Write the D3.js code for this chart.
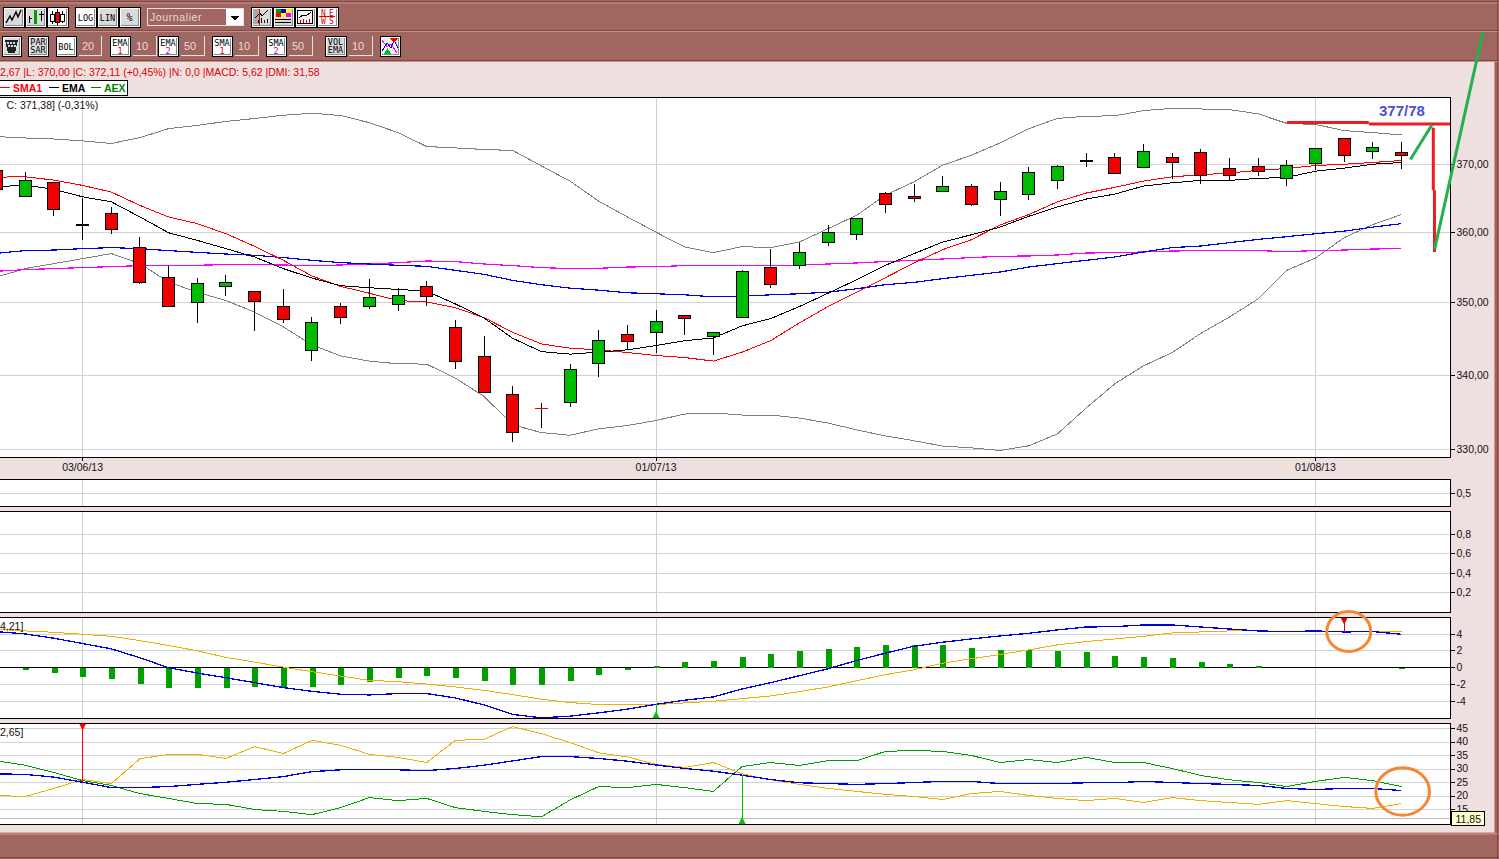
<!DOCTYPE html>
<html>
<head>
<meta charset="utf-8">
<script src="https://cdn.jsdelivr.net/npm/d3@7"></script>
<style>
  html, body { margin: 0; padding: 0; background: #a1665f; overflow: hidden; }
  svg { display: block; font-family: "Liberation Sans", Arial, sans-serif; }
</style>
</head>
<body>
<svg id="chart"></svg>
<script>
const dateTicks = [3, 23, 46];
const dateLabels = ["03/06/13", "01/07/13", "01/08/13"];

// daily candles
const opens = [369.16,365.23,367.35,361.07,362.79,357.86,353.57,350.09,352.37,351.57,349.45,343.37,349.45,349.53,349.81,352.29,346.58,342.6,337.3,335.54,336.3,341.59,345.62,345.84,348.22,345.29,347.89,355,355.28,358.66,359.71,365.73,365.29,366.03,366.76,364.85,365.59,367.65,370.54,371.04,369.56,371.04,371.79,369.41,369.71,367.94,370.15,373.87,371.94,371.79];
const highs = [369.16,368.82,367.35,365.09,363.67,359.33,355.23,353.47,353.9,351.57,351.9,347.99,350.04,353.33,352.04,353.04,347.58,345.38,338.55,336.26,341.55,346.2,346.89,348.95,348.22,345.89,354.71,357.61,358.47,361.07,362.06,365.88,367.1,368.28,367.06,367.35,369.56,369.9,371.64,371.64,373.13,371.64,372.24,371.04,371.04,370.6,372.38,374.02,373.43,373.43];
const lows = [366.37,365.23,362.44,358.94,359.76,352.66,349.53,347.16,351.04,346.11,347.16,342,347.03,349.08,348.81,349.53,340.9,337.65,331.03,332.88,335.62,339.68,343.6,343.01,345.56,342.78,347.89,352.08,354.8,358.09,358.94,362.88,364.5,366.03,363.91,362.44,364.79,366.41,369.65,368.68,369.56,367.88,367.15,367.65,368.32,366.85,369.16,370.39,370.79,369.35];
const closes = [366.37,367.65,363.38,361.07,360.44,352.94,349.53,352.71,352.86,350.23,347.62,347.26,347.89,350.71,351,350.94,341.86,337.65,332.25,335.54,340.82,344.79,344.6,347.4,347.81,345.89,354.43,352.57,357.14,360,362.06,364.12,364.94,366.76,364.12,366.03,368.82,369.71,370.54,368.68,371.94,370.3,368.38,368.38,368.97,369.85,372.38,371.34,372.53,371.34];
const redDoji = [19];

// overlays on the price pane
const sma1 = [368.13,368.18,367.69,366.91,365.93,363.97,362.29,361.32,359.86,358.04,356.04,353.8,352.33,351.37,350.33,350.14,349.32,347.95,345.89,344.29,343.7,343.47,343.1,342.69,342.41,341.92,343.15,344.74,347.21,349.49,351.51,353.57,355.66,357.57,359,361.12,362.64,364.5,365.78,366.62,367.54,368.18,368.47,368.76,369.12,369.41,369.85,370.04,370.3,370.6];
const ema1 = [366.7,366.96,366.32,365.23,364.5,362.29,360,358.9,357.71,356.51,354.85,353.51,352.43,352.14,351.9,351.66,349.86,347.89,345.07,343.23,342.88,343.15,343.47,344.06,344.74,345.11,346.79,347.81,349.49,351.37,353.28,355.33,357,358.66,359.71,360.82,362.39,363.76,364.9,365.63,366.81,367.29,367.65,367.65,367.94,368.09,369.01,369.46,370.04,370.3];
const ema2 = [357.04,357.43,357.51,357.71,357.86,357.71,357.43,357.18,356.94,356.76,356.43,356.04,355.71,355.51,355.33,355.18,354.61,354.04,353.18,352.57,352.08,351.8,351.43,351.29,351.14,350.86,350.94,351.14,351.29,351.51,352,352.57,352.9,353.43,353.9,354.37,355.08,355.57,356.04,356.51,357.23,357.86,358.09,358.57,359.04,359.43,359.86,360.23,360.82,361.32];
const sma2 = [354.47,354.71,354.86,355,355.14,355.28,355.28,355.33,355.43,355.43,355.37,355.28,355.37,355.51,355.71,355.94,355.86,355.51,355.28,355,354.86,354.9,355.08,355.14,355.28,355.28,355.28,355.28,355.37,355.51,355.66,355.86,356.04,356.23,356.43,356.61,356.66,356.8,357.08,357.14,357.23,357.37,357.43,357.43,357.43,357.28,357.43,357.51,357.66,357.71];
const bollUpper = [374.17,373.96,373.81,373.52,373.13,374.02,375.36,375.86,376.45,376.9,377.39,377.69,377.35,376.26,374.77,372.68,372.47,372.24,372.09,369.79,367.54,364.6,362.29,360.08,357.94,357.14,358,357.86,358.66,360.59,362.54,365.48,367.44,369.9,371.39,373.22,375.36,376.9,377.24,377.3,378.09,378.43,378.34,378.24,377.6,376.15,376,375.07,374.77,374.41];
const bollLower = [353.66,354.86,355.57,356.28,357,355.57,352.94,351.51,350.33,348.71,346.66,344.15,342.64,341.92,341.55,341.51,339.59,337.11,333.29,332.25,331.89,332.75,333.19,333.87,334.73,334.87,334.6,334.6,334.19,333.52,332.61,331.8,331.16,330.45,330.22,329.87,330.49,332.07,335.54,338.82,341.27,343.09,345.75,348.03,350.57,354.61,356.37,359.29,361.18,362.64];

// MACD pane
const macdHist = [-0.1,-0.32,-0.67,-1.15,-1.38,-1.98,-2.45,-2.45,-2.45,-2.33,-2.33,-2.33,-2.09,-1.74,-1.26,-1.03,-1.26,-1.62,-2.09,-2.09,-1.62,-0.91,-0.32,0.16,0.63,0.75,1.34,1.58,1.94,2.29,2.53,2.77,2.77,2.77,2.41,2.17,2.06,1.94,1.82,1.46,1.34,1.11,0.63,0.4,0.16,0,0,0,0,-0.2];
const macdLine = [4.31,4.03,3.52,2.89,2.25,1.19,0,-0.63,-1.19,-1.78,-2.37,-2.81,-3.16,-3.24,-3.08,-3.08,-3.6,-4.43,-5.57,-5.97,-5.77,-5.38,-4.94,-4.35,-3.87,-3.48,-2.53,-1.78,-0.95,-0.12,0.87,1.74,2.57,3.04,3.44,3.79,4.11,4.51,4.86,4.9,5.1,5.1,4.86,4.62,4.39,4.31,4.39,4.27,4.31,3.99];
const macdSignal = [4.58,4.39,4.23,3.99,3.75,3.24,2.65,2.02,1.23,0.67,0.08,-0.47,-0.99,-1.5,-1.66,-1.94,-2.29,-2.69,-3.2,-3.75,-4.15,-4.39,-4.39,-4.39,-4.19,-3.99,-3.68,-3.36,-2.85,-2.29,-1.54,-0.83,-0.24,0.55,1.07,1.58,2.13,2.73,3.12,3.44,3.75,4.15,4.27,4.39,4.39,4.35,4.35,4.35,4.35,4.35];

// DMI pane
const adx = [28.2,28,27,25.1,23.1,23.1,23.5,24.3,25.1,26.1,27.2,29,29.7,29.7,29.7,29.4,30.2,31.4,33,34.6,34.6,33.9,32.9,31.5,30.2,29.2,27.7,26.1,24.9,24.6,24.3,24.6,25,25.4,25.4,24.6,24.6,24.6,24.9,24.9,25.4,25,24.6,24.3,23.9,22.8,22.4,22.8,22.8,22];
const diMinus = [20.2,19.8,22.8,26.1,24.6,33.8,35.4,35.4,33.9,38.3,35.7,40.6,38.8,35.4,34.3,32.4,40.6,41,45.7,43.1,39.8,36,34.5,31.7,30.6,32.4,28.2,26,24.3,22.8,21.7,20.6,19.8,18.7,20.9,21.7,20.2,19.1,18.3,19.1,17.6,19.4,18.3,17.6,16.9,18.3,17.2,16.1,15.4,17.2];
const diPlus = [33,31.4,28.7,25.7,23.9,20.9,19.1,17.2,16.9,15,14.3,13.1,15.7,19.4,18.3,19.1,15.7,14.3,13.1,12.3,18.5,23.5,23.1,24.3,23.1,21.7,30.9,32.4,31.3,33.1,33.1,36.5,36.9,36.5,35,32.4,33.5,32.4,34.3,32.4,32.4,30.2,27.6,26,25,23.5,25.4,26.9,25.7,23.5];

// hand drawn marks, as [bar index, price]
const resistanceA = [[45, 376.3], [47.86, 376.3]];
const resistanceB = [[47.86, 376.08], [50.69, 376.08]];
const dropA = [[50.11, 375.51], [50.11, 366.22]];
const dropB = [[50.15, 366.22], [50.15, 357.23]];
const riseA = [[49.31, 370.75], [50.07, 376]];
const riseB = [[50.16, 357.71], [51.84, 390.2]];

const width = 1499, height = 859;
const marginLeft = -5, plotRight = 1450.5;
const fontSize = 10.5;
const comma = d3.formatLocale({ decimal: ",", thousands: ".", grouping: [3], currency: ["", ""], minus: "-" });

const svg = d3.select("#chart")
  .attr("width", width)
  .attr("height", height)
  .attr("viewBox", [0, 0, width, height]);

const x = d3.scaleLinear().domain([0, 49]).range([-3.4, 1401.5]);
const yPrice = d3.scaleLog().domain([330, 370]).range([449.5, 164.5]);
const yBlank1 = d3.scaleLinear().domain([0, 1]).range([507.5, 479.5]);
const yBlank2 = d3.scaleLinear().domain([0.2, 0.8]).range([592.5, 534.5]);
const yMacd = d3.scaleLinear().domain([-4, 4]).range([701.3, 634.2]);
const yDmi = d3.scaleLinear().domain([15, 45]).range([809.5, 728.5]);

// window frame
svg.append("rect").attr("width", width).attr("height", height).attr("fill", "#a1665f");
svg.append("rect").attr("x", -2).attr("y", 62).attr("width", 1496).attr("height", 771).attr("fill", "#efe0e0");
[[1.5, "#7d4a45"], [3, "#c98f87"], [30.5, "#7d4a45"], [31.5, "#c98f87"], [60.5, "#7d4a45"], [61.5, "#c98f87"], [833, "#b97a72"], [834, "#e28f85"], [857.5, "#7d4a45"]].forEach(([y, c]) => {
  svg.append("line").attr("x1", 0).attr("x2", width).attr("y1", y).attr("y2", y).attr("stroke", c);
});
svg.append("line").attr("x1", 1494.5).attr("x2", 1494.5).attr("y1", 62).attr("y2", 834).attr("stroke", "#e28f85");
svg.append("line").attr("x1", 1497.5).attr("x2", 1497.5).attr("y1", 0).attr("y2", height).attr("stroke", "#7d4a45");

// draws one pane: white box, grid lines, right axis and the date grid
function pane(id, top, bottom, y, ticks, fmt) {
  const g = svg.append("g");
  g.append("rect")
    .attr("x", marginLeft).attr("y", top + 0.5)
    .attr("width", plotRight - marginLeft).attr("height", bottom - top)
    .attr("fill", "#fff");
  svg.append("clipPath").attr("id", id).append("rect")
    .attr("x", marginLeft).attr("y", top + 0.5)
    .attr("width", plotRight - marginLeft).attr("height", bottom - top);

  const grid = g.append("g").attr("shape-rendering", "crispEdges");
  grid.selectAll("line")
    .data(dateTicks)
    .join("line")
    .attr("x1", d => x(d)).attr("x2", d => x(d))
    .attr("y1", top).attr("y2", bottom)
    .attr("stroke", "#cfcfcf");

  g.append("g")
    .attr("transform", `translate(${plotRight},0)`)
    .attr("shape-rendering", "crispEdges")
    .call(d3.axisRight(y).tickValues(ticks).tickFormat(fmt).tickSize(4).tickPadding(2).offset(0))
    .call(a => a.select(".domain").remove())
    .call(a => a.selectAll(".tick line").clone()
      .attr("x1", 0).attr("x2", marginLeft - plotRight)
      .attr("stroke", "#d2d2d2"))
    .call(a => a.selectAll("text")
      .attr("font-size", fontSize).attr("font-family", "Liberation Sans").attr("fill", "#111"));
  return g;
}

function frame(top, bottom) {
  svg.append("rect")
    .attr("x", marginLeft).attr("y", top + 0.5)
    .attr("width", plotRight - marginLeft).attr("height", bottom - top)
    .attr("fill", "none").attr("stroke", "#000").attr("shape-rendering", "crispEdges");
}

pane("clipPrice", 97, 457, yPrice, [330, 340, 350, 360, 370], comma.format(".2f"));
pane("clipBlank1", 479, 506, yBlank1, [0.5], comma.format(".1f"));
pane("clipBlank2", 511, 612, yBlank2, [0.2, 0.4, 0.6, 0.8], comma.format(".1f"));
pane("clipMacd", 617, 718, yMacd, [-4, -2, 0, 2, 4], comma.format("d"));
pane("clipDmi", 723, 824, yDmi, [15, 20, 25, 30, 35, 40, 45], comma.format("d"));

// price pane
const priceLayer = svg.append("g").attr("clip-path", "url(#clipPrice)");
const priceLine = d3.line().x((d, i) => x(i)).y(d => yPrice(d));
[[bollUpper, "#808080", 1], [bollLower, "#808080", 1], [sma2, "#ff00ff", 1.2], [ema2, "#0000e6", 1.2], [sma1, "#ff0000", 1], [ema1, "#000", 1]].forEach(([values, color, w]) => {
  priceLayer.append("path")
    .attr("d", priceLine(values))
    .attr("fill", "none")
    .attr("stroke", color)
    .attr("stroke-width", w)
    .attr("shape-rendering", "crispEdges");
});

const candles = priceLayer.append("g").attr("shape-rendering", "crispEdges");
candles.selectAll("line.wick")
  .data(opens)
  .join("line")
  .attr("class", "wick")
  .attr("x1", (d, i) => x(i)).attr("x2", (d, i) => x(i))
  .attr("y1", (d, i) => yPrice(highs[i]))
  .attr("y2", (d, i) => yPrice(lows[i]))
  .attr("stroke", "#000");
candles.selectAll("rect")
  .data(opens.map((d, i) => i).filter(i => opens[i] !== closes[i]))
  .join("rect")
  .attr("x", i => x(i) - 6)
  .attr("width", 12)
  .attr("y", i => yPrice(Math.max(opens[i], closes[i])))
  .attr("height", i => Math.abs(yPrice(opens[i]) - yPrice(closes[i])))
  .attr("fill", i => closes[i] > opens[i] ? "#00bb00" : "#f00000")
  .attr("stroke", "#000");
candles.selectAll("line.doji")
  .data(opens.map((d, i) => i).filter(i => opens[i] === closes[i]))
  .join("line")
  .attr("class", "doji")
  .attr("x1", i => x(i) - 6.5).attr("x2", i => x(i) + 6.5)
  .attr("y1", i => yPrice(opens[i])).attr("y2", i => yPrice(opens[i]))
  .attr("stroke", i => redDoji.includes(i) ? "#f00000" : "#000")
  .attr("stroke-width", i => redDoji.includes(i) ? 1 : 2);

// date axis under the price pane
svg.append("g")
  .attr("transform", "translate(0,457.5)")
  .attr("shape-rendering", "crispEdges")
  .call(d3.axisBottom(x).tickValues(dateTicks).tickFormat((d, i) => dateLabels[i]).tickSize(3).tickPadding(3).offset(0))
  .call(a => a.select(".domain").remove())
  .call(a => a.selectAll("text").attr("font-size", fontSize).attr("font-family", "Liberation Sans").attr("fill", "#111"));

// MACD pane
const macdLayer = svg.append("g").attr("clip-path", "url(#clipMacd)");
macdLayer.append("line")
  .attr("x1", marginLeft).attr("x2", plotRight)
  .attr("y1", yMacd(0)).attr("y2", yMacd(0))
  .attr("stroke", "#000").attr("shape-rendering", "crispEdges");
macdLayer.append("g").attr("shape-rendering", "crispEdges")
  .selectAll("rect")
  .data(macdHist)
  .join("rect")
  .attr("x", (d, i) => x(i) - 2.3)
  .attr("width", 6)
  .attr("y", d => yMacd(Math.max(d, 0)))
  .attr("height", d => Math.abs(yMacd(d) - yMacd(0)))
  .attr("fill", "#00a000");
const macdPath = d3.line().x((d, i) => x(i)).y(d => yMacd(d));
[[macdSignal, "#f0b000", 1], [macdLine, "#0000e0", 1.3]].forEach(([values, color, w]) => {
  macdLayer.append("path")
    .attr("d", macdPath(values))
    .attr("fill", "none").attr("stroke", color).attr("stroke-width", w).attr("shape-rendering", "crispEdges");
});

// DMI pane
const dmiLayer = svg.append("g").attr("clip-path", "url(#clipDmi)");
dmiLayer.append("line")
  .attr("x1", marginLeft).attr("x2", plotRight)
  .attr("y1", yDmi(11.85)).attr("y2", yDmi(11.85))
  .attr("stroke", "#bdbdbd").attr("shape-rendering", "crispEdges");
const dmiPath = d3.line().x((d, i) => x(i)).y(d => yDmi(d));
[[diMinus, "#f0b000", 1], [diPlus, "#009f00", 1], [adx, "#0000e0", 1.3]].forEach(([values, color, w]) => {
  dmiLayer.append("path")
    .attr("d", dmiPath(values))
    .attr("fill", "none").attr("stroke", color).attr("stroke-width", w).attr("shape-rendering", "crispEdges");
});

// buy and sell arrows, a stem from the value to the pane edge
function signal(layer, i, yValue, edge, color) {
  const dir = edge > yValue ? -1 : 1;
  const px = x(i);
  layer.append("line")
    .attr("x1", px).attr("x2", px).attr("y1", yValue).attr("y2", edge)
    .attr("stroke", color).attr("shape-rendering", "crispEdges");
  layer.append("path")
    .attr("d", d3.line()([[px - 3.5, edge], [px + 3.5, edge], [px, edge + dir * 7]]))
    .attr("fill", color);
}
signal(macdLayer, 23, yMacd(macdLine[23]), 718, "#00c000");
signal(macdLayer, 47, yMacd(macdLine[47]), 617.5, "#e00000");
signal(dmiLayer, 3, yDmi(adx[3]), 723.5, "#ff0000");
signal(dmiLayer, 26, yDmi(adx[26]), 824, "#00c000");

[[97, 457], [479, 506], [511, 612], [617, 718], [723, 824]].forEach(([t, b]) => frame(t, b));

// small texts in the panes
const label = (tx, ty, text, fill = "#111", size = fontSize, weight = "normal") =>
  svg.append("text").attr("x", tx).attr("y", ty).attr("fill", fill)
    .attr("font-size", size).attr("font-weight", weight).text(text);
label(6.5, 109, "C: 371,38] (-0,31%)");
label(0, 629.5, "4,21]");
label(0, 736, "2,65]");
label(0, 76, "2,67 |L: 370,00 |C: 372,11 (+0,45%) |N: 0,0 |MACD: 5,62 |DMI: 31,58", "#e00000");

// legend
svg.append("rect").attr("x", -3).attr("y", 80.5).attr("width", 130.5).attr("height", 14.5)
  .attr("fill", "#fff").attr("stroke", "#000").attr("shape-rendering", "crispEdges");
const legendItems = ["SMA1", "EMA", "AEX"];
const legendColors = ["#ff0000", "#000", "#008000"];
const legendLineX = [0, 49, 91];
const legendTextX = [13, 62, 104];
legendItems.forEach((name, i) => {
  svg.append("line").attr("x1", legendLineX[i]).attr("x2", legendLineX[i] + 10)
    .attr("y1", 87.5).attr("y2", 87.5).attr("stroke", legendColors[i]).attr("shape-rendering", "crispEdges");
  label(legendTextX[i], 92, name, legendColors[i], fontSize, "bold");
});

// value flag on the DMI axis
svg.append("line").attr("x1", 1484).attr("x2", 1492).attr("y1", 818.5).attr("y2", 818.5)
  .attr("stroke", "#d5e8e8").attr("shape-rendering", "crispEdges");
svg.append("rect").attr("x", 1451.5).attr("y", 811.5).attr("width", 33).attr("height", 14)
  .attr("fill", "#ffffd0").attr("stroke", "#000").attr("shape-rendering", "crispEdges");
label(1455.5, 822.5, "11,85");

// annotations drawn over the screenshot
const markLine = d3.line().x(d => x(d[0])).y(d => yPrice(d[1]));
[[resistanceA, "#ed1c24"], [resistanceB, "#ed1c24"], [dropA, "#ed1c24"], [dropB, "#ed1c24"], [riseA, "#22b14c"], [riseB, "#22b14c"]].forEach(([pts, color]) => {
  svg.append("path").attr("d", markLine(pts)).attr("fill", "none")
    .attr("stroke", color).attr("stroke-width", 3);
});
label(1379, 116, "377/78", "#4a4fd6", 15, "bold");
[[x(47.16), yMacd(4.33), 22, 20], [x(49.04), yDmi(21.67), 26.8, 23.7]].forEach(([cx, cy, rx, ry]) => {
  svg.append("ellipse").attr("cx", cx).attr("cy", cy).attr("rx", rx).attr("ry", ry)
    .attr("fill", "none").attr("stroke", "#f58634").attr("stroke-width", 3);
});

// toolbar
const toolbar = svg.append("g").attr("shape-rendering", "crispEdges");
function button(bx, by, w, h, fill) {
  const g = toolbar.append("g").attr("transform", `translate(${bx},${by})`);
  g.append("rect").attr("x", -0.5).attr("y", -0.5).attr("width", w + 1).attr("height", h + 1).attr("fill", "#000");
  g.append("rect").attr("x", 0.5).attr("y", 0.5).attr("width", w - 1).attr("height", h - 1).attr("fill", "#fff");
  g.append("rect").attr("x", 1.5).attr("y", 1.5).attr("width", w - 2.5).attr("height", h - 2.5).attr("fill", "#8a8a8a");
  g.append("rect").attr("x", 1.5).attr("y", 1.5).attr("width", w - 3.5).attr("height", h - 3.5).attr("fill", fill);
  return g;
}
function caption(g, cx, cy, text, fill = "#000", size = 8.5) {
  g.append("text").attr("x", cx).attr("y", cy).attr("text-anchor", "middle")
    .attr("font-family", "DejaVu Sans Mono").attr("font-size", size).attr("fill", fill)
    .text(text);
}
function inputBox(bx, by, w, h, text) {
  const g = toolbar.append("g").attr("transform", `translate(${bx},${by})`);
  g.append("rect").attr("x", 0.5).attr("y", 0.5).attr("width", w).attr("height", h).attr("fill", "#a1665f").attr("stroke", "#e8e0e0");
  g.append("path").attr("d", `M0.5,${h}V0.5H${w}`).attr("fill", "none").attr("stroke", "#777");
  g.append("text").attr("x", 3).attr("y", h - 5).attr("font-size", 11).attr("fill", "#e8dcdc").text(text);
}
const stroke = (g, d, color = "#000") => g.append("path").attr("d", d).attr("fill", "none").attr("stroke", color);

const gray = "#dadada";
let b = button(3, 7, 21, 20, gray);
b.append("path").attr("d", "M3,16L7,9L9,13L13,5L15,10L18,3").attr("fill", "none").attr("stroke", "#000").attr("stroke-width", 1.4).attr("shape-rendering", "auto");
b = button(25, 7, 21, 20, gray);
stroke(b, "M4.5,9V16M4.5,11H7M16.5,4V14M14,7H19");
b.append("rect").attr("x", 9).attr("y", 3).attr("width", 3).attr("height", 14).attr("fill", "#00a000");
b = button(47, 7, 21, 20, "#fff");
stroke(b, "M5.5,4V17M10.5,2V18M15.5,4V16");
b.append("rect").attr("x", 3.5).attr("y", 7.5).attr("width", 4).attr("height", 7).attr("fill", "#fff").attr("stroke", "#000");
b.append("rect").attr("x", 8.5).attr("y", 5.5).attr("width", 4).attr("height", 10).attr("fill", "#f00000").attr("stroke", "#000");
b.append("rect").attr("x", 13.5).attr("y", 7.5).attr("width", 4).attr("height", 7).attr("fill", "#fff").attr("stroke", "#000");
caption(button(75, 7, 21, 20, "#fff"), 10.5, 14, "LOG");
caption(button(97, 7, 21, 20, gray), 10.5, 14, "LIN");
caption(button(119, 7, 21, 20, gray), 10.5, 14, "%", "#000", 10);

// period selector
toolbar.append("rect").attr("x", 147.5).attr("y", 8.5).attr("width", 96).attr("height", 17)
  .attr("fill", "#a1665f").attr("stroke", "#e8e0e0").attr("stroke-width", 1.5);
toolbar.append("rect").attr("x", 226).attr("y", 9).attr("width", 17).attr("height", 16).attr("fill", "#fff");
toolbar.append("path").attr("d", "M231,16H239L235,21Z").attr("fill", "#000");
toolbar.append("text").attr("x", 150).attr("y", 21).attr("font-size", 10.5).attr("letter-spacing", 0.6).attr("fill", "#e8dcdc").text("Journalier");

b = button(251, 7, 21, 20, gray);
b.append("rect").attr("x", 2).attr("y", 2).attr("width", 6).attr("height", 15).attr("fill", "#aaa");
stroke(b, "M4,11L9,6L11,9L17,3M7.5,16V13M10.5,16V11M13.5,16V13M16.5,16V12");
stroke(b, "M8.5,2V18", "#e00000");
b = button(273, 7, 21, 20, gray);
[["#00a000", 3, 2], ["#0000e0", 8, 2], ["#ffff00", 13, 2], ["#ff0000", 3, 6], ["#ffff00", 8, 6], ["#ff00ff", 13, 6]].forEach(([c, cx, cy]) => {
  b.append("rect").attr("x", cx).attr("y", cy).attr("width", 5).attr("height", 4).attr("fill", c);
});
stroke(b, "M2,12.5H18M2,15.5H18");
b = button(295, 7, 21, 20, "#f4f4f4");
stroke(b, "M2.5,3.5H17.5V16.5H2.5Z M4,11L8,8L11,9L16,5");
stroke(b, "M5.5,16V13M8.5,16V12M11.5,16V13M14.5,16V12", "#e00000");
b = button(317, 7, 21, 20, "#fff");
caption(b, 6.5, 9, "N", "#e00000", 8);
caption(b, 14.5, 9, "E", "#e00000", 8);
caption(b, 6.5, 17, "W", "#e00000", 8);
caption(b, 14.5, 17, "S", "#e00000", 8);
stroke(b, "M2,9.5H18", "#e00000");

b = button(2, 36, 19, 20, gray);
b.append("path").attr("d", "M3,4H16L13,17H6Z").attr("fill", "#222");
[[5, 6], [8, 6], [11, 6], [6, 9], [9, 9], [12, 9]].forEach(([a, c]) => {
  b.append("rect").attr("x", a).attr("y", c).attr("width", 2).attr("height", 2).attr("fill", "#ddd");
});
b = button(28, 36, 20, 20, gray);
caption(b, 10, 8.5, "PAR");
caption(b, 10, 17, "SAR");
caption(button(56, 36, 20, 20, "#fff"), 10, 14, "BOL");
inputBox(79, 36, 22, 19, "20");
const emaLabels = ["EMA", "EMA", "SMA", "SMA"];
const emaNumbers = ["1", "2", "1", "2"];
const emaColors = ["#e00000", "#c000c0", "#e00000", "#c000c0"];
const emaPeriods = ["10", "50", "10", "50"];
const emaButtonX = [110, 158, 212, 266];
const emaInputX = [133, 181, 235, 289];
emaLabels.forEach((name, i) => {
  const g = button(emaButtonX[i], 36, 20, 20, "#fff");
  caption(g, 10, 9.5, name);
  caption(g, 10, 18, emaNumbers[i], emaColors[i]);
  inputBox(emaInputX[i], 36, 23, 19, emaPeriods[i]);
});
b = button(325, 36, 21, 20, gray);
caption(b, 10.5, 8.5, "VOL");
caption(b, 10.5, 17, "EMA");
inputBox(349, 36, 23, 19, "10");
b = button(380, 36, 20, 20, "#f4f4f4");
stroke(b, "M2,4L7,11L11,8L17,17", "#ff00ff");
stroke(b, "M2,15L7,7L11,12L14,4L18,12", "#0000e0");
b.append("path").attr("d", "M10,2H18L14,7Z").attr("fill", "#e00000");
b.append("path").attr("d", "M4,18H11L7.5,12Z").attr("fill", "#00c000");
</script>
</body>
</html>
